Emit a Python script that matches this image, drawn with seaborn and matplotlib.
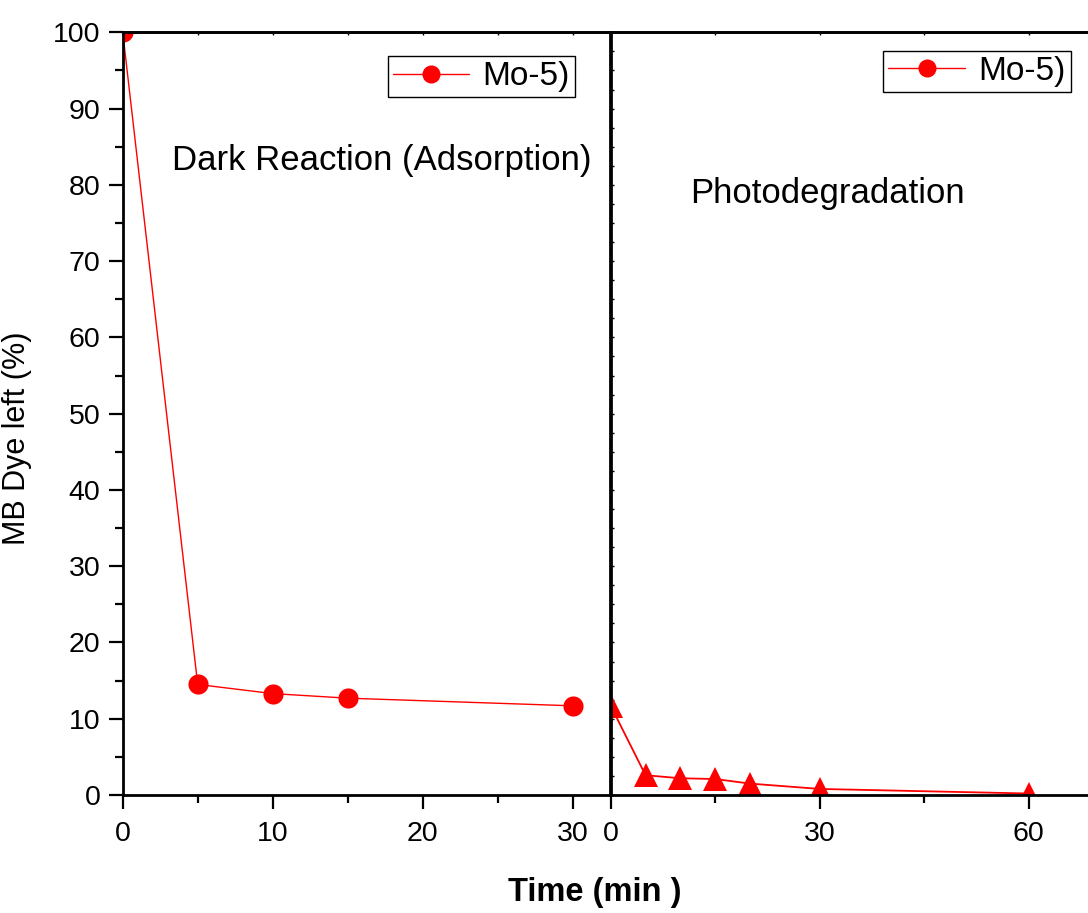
import numpy as np
import pandas as pd
import seaborn as sns
import matplotlib
matplotlib.use('Agg')
from matplotlib import pyplot as plt
from matplotlib.lines import Line2D
from matplotlib.ticker import MultipleLocator, NullFormatter

# data
dark_time = [0, 5, 10, 15, 30]
dark_dye = [100, 14.5, 13.3, 12.7, 11.7]
photo_time = [0, 5, 10, 15, 20, 30, 60]
photo_dye = [11.7, 2.6, 2.2, 2.1, 1.5, 0.8, 0.2]
series_name = 'Mo-5)'

sns.set_style('ticks')
plt.rcParams['font.family'] = ['Liberation Sans', 'DejaVu Sans']
plt.rcParams['text.color'] = 'black'
plt.rcParams['axes.labelcolor'] = 'black'
plt.rcParams['xtick.color'] = 'black'
plt.rcParams['ytick.color'] = 'black'

df_dark = pd.DataFrame({'time': dark_time, 'dye': dark_dye})
df_photo = pd.DataFrame({'time': photo_time, 'dye': photo_dye})

fig = plt.figure(figsize=(10.88, 9.13), dpi=100)
ax1 = fig.add_axes([0.1128, 0.1292, 0.4479, 0.8354])
ax2 = fig.add_axes([0.5613, 0.1292, 0.4387, 0.8354])

sns.lineplot(data=df_dark, x='time', y='dye', ax=ax1, color='red', marker='o',
             markersize=14.5, markeredgewidth=0, linewidth=1)
sns.lineplot(data=df_photo, x='time', y='dye', ax=ax2, color='red', marker='^',
             markersize=17, markeredgewidth=0, linewidth=1.3)

for ax in (ax1, ax2):
    ax.set_ylim(0, 100)
    ax.set_xlabel('')
    ax.set_ylabel('')
    for s in ax.spines.values():
        s.set_linewidth(2)
        s.set_color('black')

ax1.set_xlim(0, 32.5)
ax2.set_xlim(0, 68.5)
ax2.spines['right'].set_visible(False)

# left panel ticks
ax1.xaxis.set_major_locator(MultipleLocator(10))
ax1.xaxis.set_minor_locator(MultipleLocator(5))
ax1.yaxis.set_major_locator(MultipleLocator(10))
ax1.yaxis.set_minor_locator(MultipleLocator(5))
ax1.tick_params(axis='both', which='major', direction='out', length=10, width=1.6,
                labelsize=20.5, colors='black')
ax1.tick_params(axis='x', which='major', pad=9)
ax1.tick_params(axis='y', which='major', pad=6)
ax1.tick_params(axis='both', which='minor', direction='out', length=5.5, width=1.6)
ax1.tick_params(axis='x', which='both', top=False)
sec1 = ax1.secondary_xaxis('top')
sec1.xaxis.set_major_locator(MultipleLocator(5))
sec1.xaxis.set_major_formatter(NullFormatter())
sec1.tick_params(direction='in', length=2.5, width=1)
sec1.spines['top'].set_linewidth(2)

# right panel ticks
ax2.xaxis.set_major_locator(MultipleLocator(30))
ax2.xaxis.set_minor_locator(MultipleLocator(15))
ax2.tick_params(axis='x', which='major', direction='out', length=10, width=1.6,
                labelsize=20.5, pad=9)
ax2.tick_params(axis='x', which='minor', direction='out', length=5.5, width=1.6)
ax2.yaxis.set_major_locator(MultipleLocator(2.5))
ax2.yaxis.set_major_formatter(NullFormatter())
ax2.tick_params(axis='y', which='major', direction='in', length=2.5, width=1)
sec2 = ax2.secondary_xaxis('top')
sec2.xaxis.set_major_locator(MultipleLocator(15))
sec2.xaxis.set_major_formatter(NullFormatter())
sec2.tick_params(direction='in', length=2.5, width=1)
sec2.spines['top'].set_linewidth(2)

# annotations
ax1.text(3.3, 83.2, 'Dark Reaction (Adsorption)', fontsize=25, va='center', ha='left')
ax2.text(11.4, 78.9, 'Photodegradation', fontsize=25, va='center', ha='left')

ax1.set_ylabel('MB Dye left (%)', fontsize=22)
ax1.yaxis.set_label_coords(-0.186, 0.468)
fig.text(595 / 1088, 0.022, 'Time (min )', fontsize=23.5, fontweight='bold',
         ha='center', va='center')

# legends (both use a circle handle, as in the reference)
for ax, anchor in ((ax1, (0.928, 0.9685)), (ax2, (0.964, 0.976))):
    h = Line2D([0], [0], color='red', lw=1, marker='o', markersize=13,
               markeredgewidth=0)
    leg = ax.legend([h], [series_name], loc='upper right', bbox_to_anchor=anchor,
                    fontsize=24, frameon=True, fancybox=False, framealpha=1,
                    edgecolor='black', borderpad=0.15, borderaxespad=0,
                    handlelength=2.3, handletextpad=0.4)
    leg.get_frame().set_linewidth(1)

fig.savefig('out.png', dpi=100)
